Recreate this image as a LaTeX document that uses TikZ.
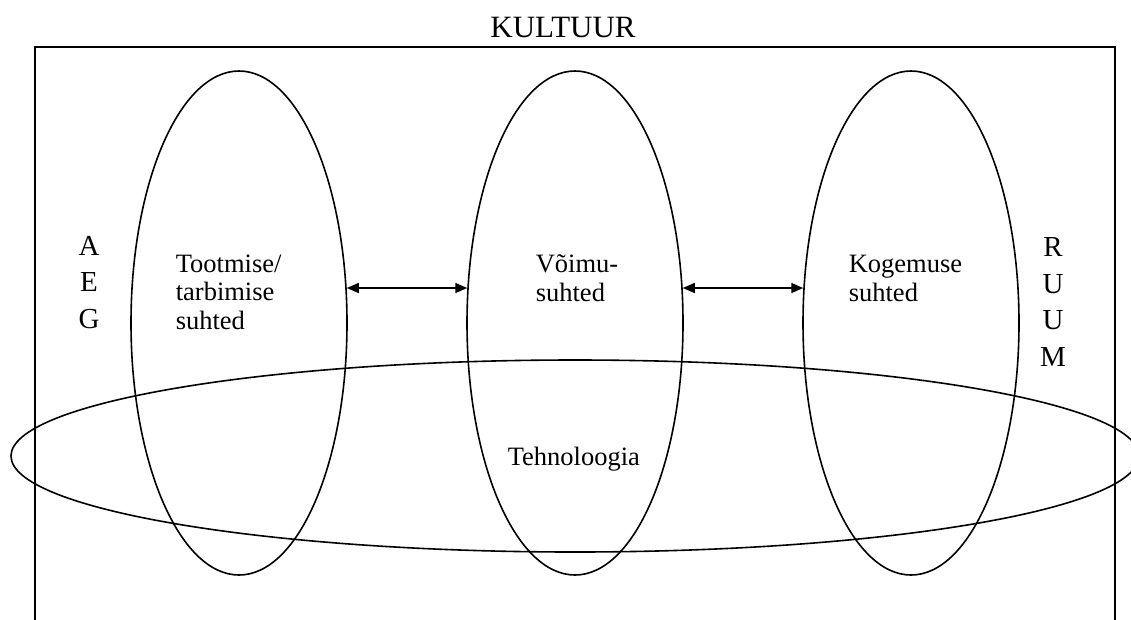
\documentclass[tikz,border=0pt]{standalone}
\usepackage{fontspec}
\setmainfont{Liberation Serif}
\usetikzlibrary{shapes.geometric,arrows.meta}

\begin{document}
\begin{tikzpicture}[x=1pt,y=-1pt,line width=1.6pt,
  oval/.style={draw,ellipse,inner sep=0pt},
  txt/.style={anchor=base west,inner sep=0pt,align=left,font=\fontsize{26.5}{28.5}\selectfont},
  side/.style={anchor=base,inner sep=0pt,align=center,font=\fontsize{29}{36.5}\selectfont},
  both/.style={{Triangle[length=12pt,width=10pt]}-{Triangle[length=12pt,width=10pt]}}]
\useasboundingbox (0,0) rectangle (1131,619);
\draw (35,640) -- (35,47) -- (1115,47) -- (1115,640);
\node[anchor=base,inner sep=0pt,font=\fontsize{31}{36}\selectfont] (kultuur) at (563,37) {KULTUUR};
% three relations
\node[oval,minimum width=216pt,minimum height=504pt] (prod) at (239,323) {};
\node[oval,minimum width=216pt,minimum height=504pt] (voim) at (575,323) {};
\node[oval,minimum width=216pt,minimum height=504pt] (koge) at (911,323) {};
\node[oval,minimum width=1128pt,minimum height=192pt] (tech) at (575,456) {};
\draw[both] (prod.18) -- (voim.162);
\draw[both] (voim.18) -- (koge.162);
% base anchor sits on the last line
\node[txt] (prodtxt) at (175,329) {Tootmise/\\tarbimise\\suhted};
\node[txt] (voimtxt) at (535,301) {Võimu-\\suhted};
\node[txt] (kogetxt) at (848,301) {Kogemuse\\suhted};
\node[txt] (techtxt) at (507,465) {Tehnoloogia};
% time and space
\node[side] (aeg) at (89,328) {A\\E\\G};
\node[side] (ruum) at (1053,366) {R\\U\\U\\M};
\end{tikzpicture}
\end{document}
